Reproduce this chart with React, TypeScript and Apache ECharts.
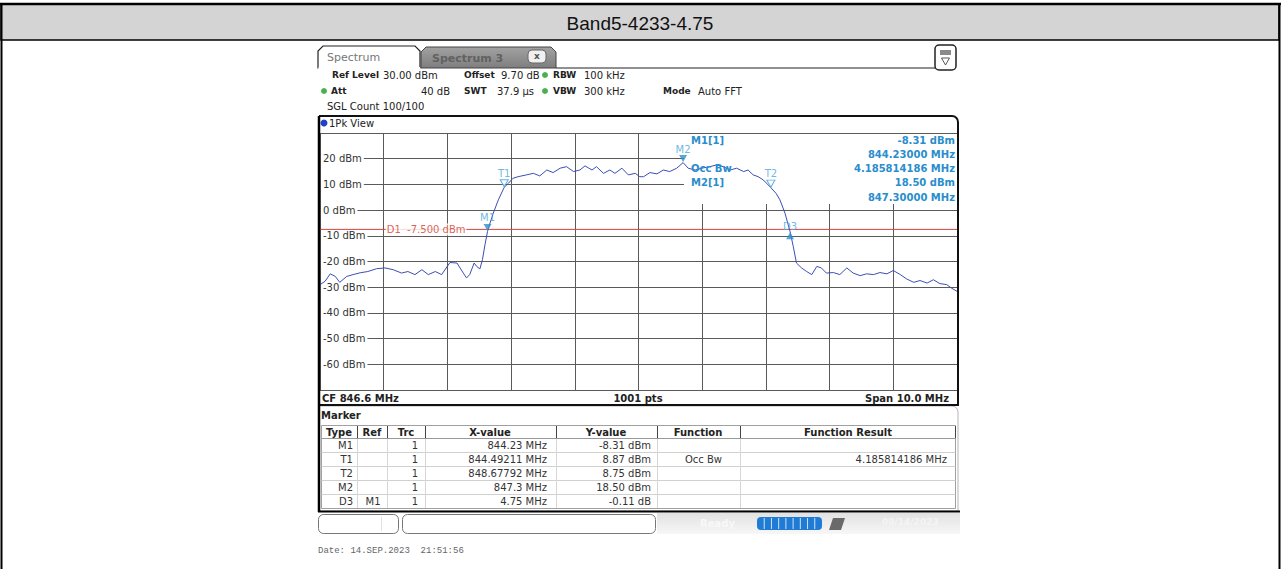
import React, { useEffect, useRef } from 'react';
import * as echarts from 'echarts';

// ---------- data ----------
const traceFreq = [
  841.6, 841.68, 841.76, 841.84, 841.91, 842.02, 842.12, 842.23, 842.35, 842.49,
  842.62, 842.75, 842.88, 842.98, 843.09, 843.2, 843.3, 843.41, 843.51, 843.64,
  843.75, 843.85, 843.9, 843.95, 844.02, 844.06, 844.11, 844.15, 844.19, 844.23,
  844.27, 844.32, 844.4, 844.49211, 844.56, 844.63, 844.71, 844.84, 844.95, 845.05,
  845.16, 845.26, 845.37, 845.47, 845.58, 845.68, 845.76, 845.87, 845.94, 846.05,
  846.15, 846.23, 846.34, 846.44, 846.55, 846.62, 846.68, 846.78, 846.89, 846.99,
  847.09, 847.2, 847.3, 847.38, 847.49, 847.59, 847.72, 847.83, 847.93, 848.04,
  848.14, 848.25, 848.32, 848.4, 848.48, 848.56, 848.67792, 848.76, 848.82, 848.9,
  848.98, 849.03, 849.08, 849.16, 849.24, 849.32, 849.4, 849.47, 849.55, 849.66,
  849.76, 849.87, 849.97, 850.08, 850.18, 850.29, 850.39, 850.5, 850.6, 850.71,
  850.81, 850.92, 851.02, 851.13, 851.23, 851.33, 851.44, 851.51, 851.6,
];
const traceLevel = [
  -29.0, -27.7, -24.8, -25.8, -28.1, -25.8, -25.1, -24.4, -23.9, -22.8,
  -22.5, -23.2, -24.5, -23.9, -25.1, -23.2, -25.1, -23.9, -25.1, -20.4,
  -20.6, -24.5, -26.4, -25.1, -20.6, -21.9, -22.9, -19.3, -13.5, -8.31,
  -5.0, -1.2, 4.0, 8.87, 10.5, 12.4, 13.0, 13.7, 14.3, 13.3,
  15.6, 14.6, 16.3, 16.9, 15.0, 15.6, 17.2, 15.6, 16.9, 14.3,
  15.6, 14.3, 16.3, 13.7, 14.3, 13.0, 13.0, 14.6, 14.1, 15.6,
  15.0, 16.3, 18.5, 16.3, 15.6, 16.3, 16.9, 17.6, 16.9, 15.6,
  16.3, 15.0, 15.6, 13.7, 13.0, 11.7, 8.75, 6.5, 4.0, -1.2,
  -8.42, -14.2, -20.6, -22.5, -23.9, -25.1, -21.9, -22.5, -24.5, -24.3,
  -25.1, -22.5, -24.5, -25.5, -24.8, -25.1, -24.3, -24.8, -23.5, -25.1,
  -26.8, -28.1, -27.4, -28.4, -27.1, -28.6, -29.0, -30.3, -31.6,
];

const freqStart = 841.6;
const freqStop = 851.6;
const levelMin = -70;
const levelMax = 30;
const levelStep = 10;
const displayLineLevel = -7.5;
const displayLineLabelFreq = 842.6;

const markerNames = ['M1', 'T1', 'T2', 'M2', 'D3'];
const markerFreqs = [844.23, 844.49211, 848.67792, 847.3, 848.98];
const markerLevels = [-8.31, 8.87, 8.75, 18.5, -8.42];

const markerInfoLeft = ['M1[1]', '', 'Occ Bw', 'M2[1]', ''];
const markerInfoRight = ['-8.31 dBm', '844.23000 MHz', '4.185814186 MHz', '18.50 dBm', '847.30000 MHz'];

const tableHeaders = ['Type', 'Ref', 'Trc', 'X-value', 'Y-value', 'Function', 'Function Result'];
const tableType = ['M1', 'T1', 'T2', 'M2', 'D3'];
const tableRef = ['', '', '', '', 'M1'];
const tableTrc = ['1', '1', '1', '1', '1'];
const tableX = ['844.23 MHz', '844.49211 MHz', '848.67792 MHz', '847.3 MHz', '4.75 MHz'];
const tableY = ['-8.31 dBm', '8.87 dBm', '8.75 dBm', '18.50 dBm', '-0.11 dB'];
const tableFn = ['', 'Occ Bw', '', '', ''];
const tableFnResult = ['', '4.185814186 MHz', '', '', ''];

// ---------- helpers for the instrument frame ----------
const F = '"DejaVu Sans", Verdana, sans-serif';
type TO = { fill?: string; size?: number; weight?: string; align?: string; family?: string; z?: number };
const txt = (text: string, x: number, y: number, o: TO = {}) => ({
  type: 'text', x, y, z: o.z ?? 20, silent: true,
  style: {
    text, fill: o.fill ?? '#222',
    font: `${o.weight ?? 'normal'} ${o.size ?? 10}px ${o.family ?? F}`,
    align: o.align ?? 'left', textAlign: o.align ?? 'left',
    verticalAlign: 'middle', textVerticalAlign: 'middle',
  },
});
const rect = (x: number, y: number, w: number, h: number, o: any = {}) => ({
  type: 'rect', z: o.z ?? 10, silent: true,
  shape: { x, y, width: w, height: h, r: o.r ?? 0 },
  style: { fill: o.fill ?? 'none', stroke: o.stroke ?? 'none', lineWidth: o.lw ?? 1 },
});
const line = (x1: number, y1: number, x2: number, y2: number, o: any = {}) => ({
  type: 'line', z: o.z ?? 15, silent: true,
  shape: { x1, y1, x2, y2 },
  style: { stroke: o.stroke ?? '#000', lineWidth: o.lw ?? 1 },
});

function buildGraphic() {
  const g: any[] = [];
  // page frame + title band
  g.push(rect(1, 4, 1278, 36, { fill: '#d4d4d4', stroke: '#000', lw: 1.5, z: 1 }));
  g.push(line(0, 4, 1281, 4, { lw: 2.5 }));
  g.push(line(1.5, 4, 1.5, 569, { lw: 2 }));
  g.push(line(1279.5, 4, 1279.5, 569, { lw: 2 }));
  g.push(txt('Band5-4233-4.75', 640, 23, { size: 19, align: 'center', family: '"Liberation Sans", Arial, sans-serif', fill: '#111' }));

  // tabs
  g.push({ type: 'polygon', z: 10, silent: true, shape: { points: [[318, 68], [318, 51], [323, 46], [415, 46], [420, 51], [420, 68]] }, style: { fill: '#fff', stroke: '#222', lineWidth: 1.2 } });
  g.push(line(318.5, 68, 420, 68, { stroke: '#fff', lw: 2, z: 11 }));
  g.push({ type: 'polygon', z: 10, silent: true, shape: { points: [[421, 68], [421, 52], [426, 47], [551, 47], [556, 52], [556, 68]] }, style: { fill: { type: 'linear', x: 0, y: 0, x2: 0, y2: 1, colorStops: [{ offset: 0, color: '#a2a2a2' }, { offset: 1, color: '#7e7e7e' }] }, stroke: '#444', lineWidth: 1 } });
  g.push(txt('Spectrum', 327, 57.5, { size: 11, fill: '#777' }));
  g.push(txt('Spectrum 3', 432, 58, { size: 11, fill: '#616161', weight: 'bold' }));
  g.push(rect(528, 50, 18, 13, { r: 4, fill: '#f0f0f0', stroke: '#666', z: 12 }));
  g.push(txt('x', 537, 56, { size: 9, align: 'center', fill: '#555', weight: 'bold' }));
  g.push(line(556, 68, 936, 68, { stroke: '#222', lw: 1.2 }));
  // top-right icon
  g.push(rect(935, 45, 21, 25, { r: 4, fill: '#fff', stroke: '#222', lw: 1.5, z: 12 }));
  g.push(rect(940, 50, 11, 5, { fill: '#8a8a8a', z: 13 }));
  g.push({ type: 'polygon', z: 13, silent: true, shape: { points: [[941.5, 58], [949.5, 58], [945.5, 65]] }, style: { fill: 'none', stroke: '#555', lineWidth: 1 } });

  // header parameter rows
  const dot = (cx: number, cy: number, c: string) => ({ type: 'circle', z: 20, silent: true, shape: { cx, cy, r: 3 }, style: { fill: c } });
  const B = { weight: 'bold', size: 9 };
  g.push(txt('Ref Level', 332, 75, B), txt('30.00 dBm', 383, 75));
  g.push(txt('Offset', 464, 75, B), txt('9.70 dB', 501, 75));
  g.push(dot(545, 75, '#4cb04c'), txt('RBW', 553, 75, B), txt('100 kHz', 584, 75));
  g.push(dot(324, 91, '#4cb04c'), txt('Att', 331, 91, B), txt('40 dB', 450, 91, { align: 'right' }));
  g.push(txt('SWT', 464, 91, B), txt('37.9 µs', 497, 91));
  g.push(dot(545, 91, '#4cb04c'), txt('VBW', 553, 91, B), txt('300 kHz', 584, 91));
  g.push(txt('Mode', 663, 91, B), txt('Auto FFT', 698, 91));
  g.push(txt('SGL Count 100/100', 327, 106));

  // plot frame
  g.push(rect(319, 116, 639, 289, { r: [0, 6, 0, 0], stroke: '#111', lw: 2, z: 30 }));
  g.push({ type: 'circle', z: 20, silent: true, shape: { cx: 324, cy: 123, r: 3.5 }, style: { fill: '#2340c8' } });
  g.push(txt('1Pk View', 329, 123));
  g.push(txt('CF 846.6 MHz', 322, 398, { weight: 'bold' }));
  g.push(txt('1001 pts', 638, 398, { weight: 'bold', align: 'center' }));
  g.push(txt('Span 10.0 MHz', 949, 398, { weight: 'bold', align: 'right' }));

  // marker info box (over the grid, under the trace)
  g.push(rect(684, 134, 273, 70, { fill: '#fff', z: 1 }));
  const infoC = '#2a8dcc';
  for (let i = 0; i < markerInfoRight.length; i++) {
    const y = 140 + i * 14.3;
    if (markerInfoLeft[i]) g.push(txt(markerInfoLeft[i], 691, y, { weight: 'bold', fill: infoC }));
    g.push(txt(markerInfoRight[i], 955, y, { weight: 'bold', fill: infoC, align: 'right' }));
  }

  // marker table panel
  g.push(rect(319, 406, 639, 105, { r: [0, 6, 0, 0], stroke: '#b5b5b5', lw: 1, z: 10 }));
  g.push(txt('Marker', 321, 415, { weight: 'bold' }));
  g.push(rect(321.5, 425.5, 634, 83, { stroke: '#a0a0a0', fill: '#fff', z: 10 }));
  g.push(line(321.5, 438.5, 955.5, 438.5, { stroke: '#999' }));
  for (let i = 1; i < 5; i++) g.push(line(321.5, 438.5 + i * 14, 955.5, 438.5 + i * 14, { stroke: '#d0d0d0' }));
  const seps = [357, 387, 425, 556, 657, 740, 955];
  seps.forEach((x, i) => {
    g.push(line(x + 0.5, 426, x + 0.5, 438, { stroke: '#444' }));
    if (i < seps.length - 1) g.push(line(x + 0.5, 439, x + 0.5, 508, { stroke: '#d6d6d6' }));
  });
  const hx = [339, 372, 406, 490, 606, 698, 848];
  tableHeaders.forEach((h, i) => g.push(txt(h, hx[i], 432, { weight: 'bold', align: 'center' })));
  const cell = '#333';
  for (let r = 0; r < tableType.length; r++) {
    const y = 445.5 + r * 14;
    g.push(txt(tableType[r], 353, y, { align: 'right', fill: cell }));
    if (tableRef[r]) g.push(txt(tableRef[r], 373, y, { align: 'center', fill: cell }));
    g.push(txt(tableTrc[r], 418, y, { align: 'right', fill: cell }));
    g.push(txt(tableX[r], 547, y, { align: 'right', fill: cell }));
    g.push(txt(tableY[r], 651, y, { align: 'right', fill: cell }));
    if (tableFn[r]) g.push(txt(tableFn[r], 722, y, { align: 'right', fill: cell }));
    if (tableFnResult[r]) g.push(txt(tableFnResult[r], 947, y, { align: 'right', fill: cell }));
  }
  g.push(line(319, 116, 319, 512, { lw: 2.5, z: 31 }));
  g.push(line(318, 511.5, 960, 511.5, { lw: 2, z: 31 }));

  // status bar
  g.push(rect(318.5, 514.5, 80, 19, { r: 5, stroke: '#777', fill: '#fff' }));
  g.push(line(381.5, 517, 381.5, 531, { stroke: '#e2e2e2' }));
  g.push(rect(402.5, 514.5, 253, 19, { r: 5, stroke: '#777', fill: '#fff' }));
  g.push(rect(657, 513, 303, 21, { fill: { type: 'linear', x: 0, y: 0, x2: 0, y2: 1, colorStops: [{ offset: 0, color: '#e2e2e2' }, { offset: 1, color: '#f7f7f7' }] } }));
  g.push(txt('Ready', 700, 523, { weight: 'bold', fill: '#f8f8f8' }));
  g.push(rect(757, 517, 65, 13, { r: 4, fill: '#1f7bd4', z: 12 }));
  for (let k = 1; k < 9; k++) g.push(line(757 + k * 7.22, 518, 757 + k * 7.22, 529, { stroke: '#cfe3f7', lw: 1, z: 13 }));
  g.push({ type: 'polygon', z: 12, silent: true, shape: { points: [[829, 530], [833, 518], [845, 518], [841, 530]] }, style: { fill: '#6a6a6a' } });
  g.push(txt('09/14/2023', 882, 522, { weight: 'bold', size: 9, fill: '#f4f4f4' }));

  // date line
  g.push(txt('Date: 14.SEP.2023  21:51:56', 318, 551, { size: 9, family: '"Liberation Mono", "Courier New", monospace', fill: '#666' }));
  return g;
}

export default function App() {
  const ref = useRef<HTMLDivElement>(null);
  useEffect(() => {
    const chart = echarts.init(ref.current as HTMLDivElement, null, { renderer: 'svg' });
    const traceData = traceFreq.map((f, i) => [f, traceLevel[i]]);
    const markerData = markerNames.map((name, i) => {
      const hollow = name.startsWith('T');
      const up = name.startsWith('D');
      return {
        name,
        value: [markerFreqs[i], markerLevels[i]],
        symbolRotate: up ? 0 : 180,
        symbolOffset: up ? [0, 4] : [0, -4],
        itemStyle: hollow ? { color: '#fff', borderColor: '#3a9ad6', borderWidth: 1 } : { color: '#2f8fd0' },
      };
    });
    chart.setOption({
      animation: false,
      backgroundColor: '#fff',
      grid: { left: 320, top: 133, width: 637, height: 257, containLabel: false },
      xAxis: [
        {
          type: 'value', min: 0, max: 10, interval: 1,
          axisLine: { show: false }, axisTick: { show: false }, axisLabel: { show: false },
          splitLine: { show: true, lineStyle: { color: '#5a5a5a', width: 1 } },
        },
        { type: 'value', min: freqStart, max: freqStop, show: false, splitLine: { show: false } },
      ],
      yAxis: {
        type: 'value', min: levelMin, max: levelMax, interval: levelStep,
        axisLine: { show: false }, axisTick: { show: false },
        splitLine: { show: true, lineStyle: { color: '#5a5a5a', width: 1 } },
        axisLabel: {
          inside: true, margin: 1,
          formatter: (v: number) => (v === levelMax || v === levelMin ? '' : `${v} dBm`),
          color: '#333', fontSize: 10, fontFamily: 'DejaVu Sans',
          backgroundColor: '#fff', padding: [0, 2, 0, 2],
        },
      },
      graphic: { elements: buildGraphic() },
      series: [
        {
          type: 'line', xAxisIndex: 1, data: traceData, showSymbol: false, symbol: 'none',
          lineStyle: { color: '#3d4db4', width: 1 }, z: 3, silent: true,
        },
        {
          type: 'line', xAxisIndex: 1, data: [[freqStart, displayLineLevel], [freqStop, displayLineLevel]],
          showSymbol: false, symbol: 'none', lineStyle: { color: '#d8423a', width: 1 }, z: 2, silent: true,
        },
        {
          type: 'scatter', xAxisIndex: 1, data: [[displayLineLabelFreq, displayLineLevel]], symbolSize: 0, z: 4, silent: true,
          label: {
            show: true, position: 'right', distance: 2, formatter: `D1  ${displayLineLevel.toFixed(3)} dBm`,
            color: '#d23a2a', fontSize: 10, fontFamily: 'DejaVu Sans', backgroundColor: '#fff', padding: [1, 1, 1, 1],
          },
        },
        {
          type: 'scatter', xAxisIndex: 1, data: markerData, symbol: 'triangle', symbolSize: [8, 7], z: 5, silent: true,
          label: { show: true, position: 'top', distance: 1, formatter: '{b}', color: '#4aa6d8', fontSize: 10, fontFamily: 'DejaVu Sans' },
        },
      ],
    });
    return () => chart.dispose();
  }, []);
  return <div ref={ref} style={{ position: 'fixed', left: 0, top: 0, width: 1281, height: 569 }} />;
}
